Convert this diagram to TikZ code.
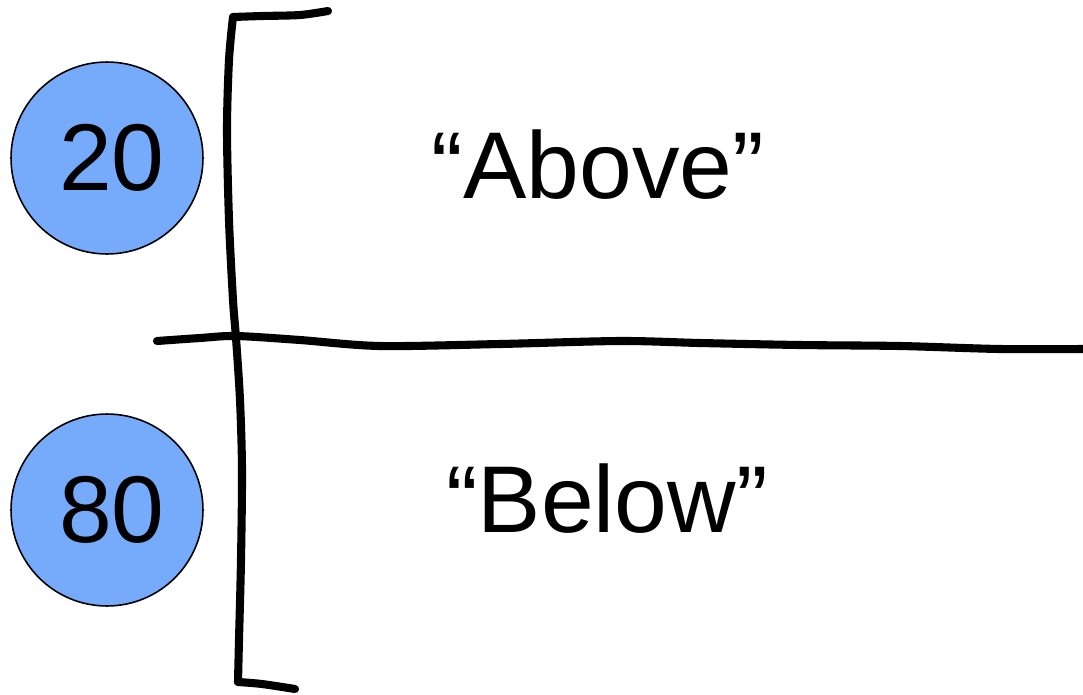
\documentclass[tikz,border=0pt]{standalone}
\usepackage{fontspec}
\setmainfont{Liberation Sans}
\usepackage{xcolor}
\usetikzlibrary{positioning}

\definecolor{dotblue}{RGB}{118,170,250}

\tikzset{
  count/.style={circle, draw=black, line width=0.9pt, fill=dotblue, minimum size=3.84cm, inner sep=0pt, font=\fontsize{54}{60}\selectfont},
  zone/.style={anchor=base, font=\fontsize{54}{60}\selectfont},
  pen/.style={line width=4.6pt, line cap=round, line join=round}
}

\begin{document}
\begin{tikzpicture}[x=0.02cm, y=-0.02cm]
\useasboundingbox (0,0) rectangle (1083,694);
% the two shares
\node[count] (n20) at (107,158) {\hspace{0.2cm}20};
\node[count] (n80) at (107,510) {\hspace{0.2cm}80};
% the bracket and the split line
\draw[pen] plot[smooth] coordinates {(328,11) (300,15) (262,16) (233,17)};
\draw[pen] plot[smooth] coordinates {(233,17) (229,60) (227,130) (229,220) (233,300) (236,338) (240,400) (242,470) (241,560) (239,640) (238,682)};
\draw[pen] plot[smooth] coordinates {(238,682) (262,684) (295,689)};
\draw[pen] plot[smooth] coordinates {(157,341) (200,338) (236,336) (300,340) (380,346) (500,344) (620,341) (700,343) (800,345) (900,346) (1000,349) (1083,349)};
% labels
\node[zone] (above) at (598,198) {“Above”};
\node[zone] (below) at (607,532) {“Below”};
\end{tikzpicture}
\end{document}
